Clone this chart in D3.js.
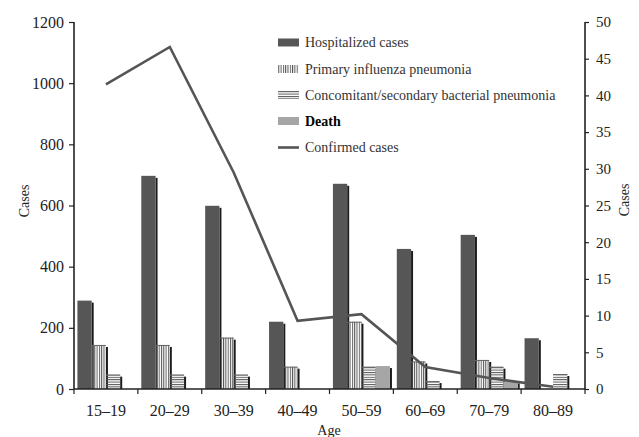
<!DOCTYPE html>
<html><head><meta charset="utf-8">
<script src="https://cdn.jsdelivr.net/npm/d3@7"></script>
<style>
html,body{margin:0;padding:0;background:#fff;}
svg text{font-family:"Liberation Serif","DejaVu Serif",serif;}
</style></head>
<body><svg id="chart" width="639" height="437"></svg>
<script>
const ageGroups = ["15–19","20–29","30–39","40–49","50–59","60–69","70–79","80–89"];
const hospitalized = [289, 697, 599, 220, 671, 458, 504, 166];
const primaryPneumonia = [144, 144, 168, 73, 220, 90, 95, 0];
const bacterialPneumonia = [47, 47, 47, 0, 73, 26, 73, 49];
const deaths = [0, 0, 0, 0, 75, 0, 25, 0];
const confirmedCases = [41.5, 46.6, 29.5, 9.3, 10.2, 3.0, 1.5, 0.3];
const leftTicks = [0, 200, 400, 600, 800, 1000, 1200];
const rightTicks = [0, 5, 10, 15, 20, 25, 30, 35, 40, 45, 50];
const legendLabels = ["Hospitalized cases","Primary influenza pneumonia","Concomitant/secondary bacterial pneumonia","Death","Confirmed cases"];

const svg = d3.select("#chart");
const L = 74, R = 585, T = 22, B = 389;
const x = d3.scaleBand().domain(ageGroups).range([L, R]).paddingInner(0).paddingOuter(0);
const yL = d3.scaleLinear().domain([0, 1200]).range([B, T]);
const yR = d3.scaleLinear().domain([0, 50]).range([B, T]);
const sub = d3.scaleBand().domain([0,1,2,3]).range([0, x.bandwidth()]).paddingOuter(0.24).paddingInner(0);

const defs = svg.append("defs");
const pv = defs.append("pattern").attr("id","vstripe").attr("patternUnits","userSpaceOnUse").attr("width",2.3).attr("height",4);
pv.append("rect").attr("x",0).attr("y",0).attr("width",1).attr("height",4).attr("fill","#555");
const ph = defs.append("pattern").attr("id","hstripe").attr("patternUnits","userSpaceOnUse").attr("width",4).attr("height",2.4);
ph.append("rect").attr("x",0).attr("y",0).attr("width",4).attr("height",1).attr("fill","#555");

const series = [
  {vals: hospitalized, fill: "#565656"},
  {vals: primaryPneumonia, fill: "url(#vstripe)", top: true},
  {vals: bacterialPneumonia, fill: "url(#hstripe)", top: true},
  {vals: deaths, fill: "#a6a6a6"}
];
const bw = sub.bandwidth();
const shadowColor = "#1b1b1b";

// hospitalized shadows first
const gH = svg.append("g");
ageGroups.forEach((g, i) => {
  const v = hospitalized[i];
  const x0 = x(g) + sub(0);
  gH.append("rect").attr("x", x0 + bw).attr("y", yL(v) + 2).attr("width", 2).attr("height", Math.max(0, B - yL(v) - 2)).attr("fill", shadowColor);
});
// other bars
for (let s = 1; s < 4; s++) {
  const ser = series[s];
  ageGroups.forEach((g, i) => {
    const v = ser.vals[i];
    if (!v) return;
    const x0 = x(g) + sub(s);
    svg.append("rect").attr("x", x0 + bw).attr("y", yL(v) + 2).attr("width", 2).attr("height", B - yL(v) - 2).attr("fill", shadowColor);
    svg.append("rect").attr("x", x0).attr("y", yL(v)).attr("width", bw).attr("height", B - yL(v)).attr("fill", ser.fill);
    if (ser.top) svg.append("rect").attr("x", x0).attr("y", yL(v)).attr("width", bw).attr("height", 1).attr("fill", "#666");
  });
}
// line
const line = d3.line().x((d, i) => x(ageGroups[i]) + x.bandwidth() / 2).y(d => yR(d));
svg.append("path").datum(confirmedCases).attr("d", line).attr("fill", "none").attr("stroke", "#555").attr("stroke-width", 2.6);
// hospitalized bars
ageGroups.forEach((g, i) => {
  const v = hospitalized[i];
  svg.append("rect").attr("x", x(g) + sub(0)).attr("y", yL(v)).attr("width", bw).attr("height", B - yL(v)).attr("fill", "#565656");
});

// axes
const axisColor = "#222";
const gl = svg.append("g").attr("transform", `translate(${L},0)`).call(d3.axisLeft(yL).tickValues(leftTicks).tickSize(5).tickPadding(5).tickFormat(d3.format("d")));
const gr = svg.append("g").attr("transform", `translate(${R},0)`).call(d3.axisRight(yR).tickValues(rightTicks).tickSize(4).tickPadding(7).tickFormat(d3.format("d")));
const gb = svg.append("g").attr("transform", `translate(0,${B})`).call(d3.axisBottom(x).tickSize(0).tickPadding(16));
const edges = ageGroups.map(g => x(g)).concat([R]);
gb.selectAll(".edge").data(edges).enter().append("line").attr("x1", d => d).attr("x2", d => d).attr("y1", 0).attr("y2", 5).attr("stroke", axisColor).attr("stroke-width", 1.2);
[gl, gr, gb].forEach(g => {
  g.select(".domain").attr("stroke", axisColor).attr("stroke-width", 1.6);
  g.selectAll(".tick line").attr("stroke", axisColor).attr("stroke-width", 1.2);
  g.selectAll(".tick text").attr("font-family", "Liberation Serif, serif").attr("font-size", 16).attr("fill", "#222");
});
gr.selectAll(".tick text").attr("font-size", 15);
gl.select(".domain").attr("d", `M0,${T}V${B}`);
gr.select(".domain").attr("d", `M0,${T}V${B}`);
gb.select(".domain").attr("d", `M${L},0H${R}`);

svg.append("text").attr("transform", "translate(29,201) rotate(-90)").attr("text-anchor", "middle").attr("font-size", 14).attr("fill", "#222").text("Cases");
svg.append("text").attr("transform", "translate(629,200) rotate(-90)").attr("text-anchor", "middle").attr("font-size", 14).attr("fill", "#222").text("Cases");
svg.append("text").attr("x", 329).attr("y", 435).attr("text-anchor", "middle").attr("font-size", 14).attr("fill", "#222").text("Age");

// legend
const lg = svg.append("g");
const rowY = [42.5, 69, 95, 121, 147.5];
const swFill = ["#565656", "url(#vstripe)", "url(#hstripe)", "#a6a6a6"];
legendLabels.forEach((lab, i) => {
  if (i < 4) {
    lg.append("rect").attr("x", 278).attr("y", rowY[i] - 4).attr("width", 21).attr("height", 8).attr("fill", swFill[i]);
  } else {
    lg.append("line").attr("x1", 278).attr("x2", 299).attr("y1", rowY[i]).attr("y2", rowY[i]).attr("stroke", "#555").attr("stroke-width", 2.6);
  }
  lg.append("text").attr("x", 305).attr("y", rowY[i] + 4.5).attr("font-size", 14).attr("fill", i === 3 ? "#000" : "#333").attr("font-weight", i === 3 ? "bold" : "normal").text(lab);
});
</script></body></html>
